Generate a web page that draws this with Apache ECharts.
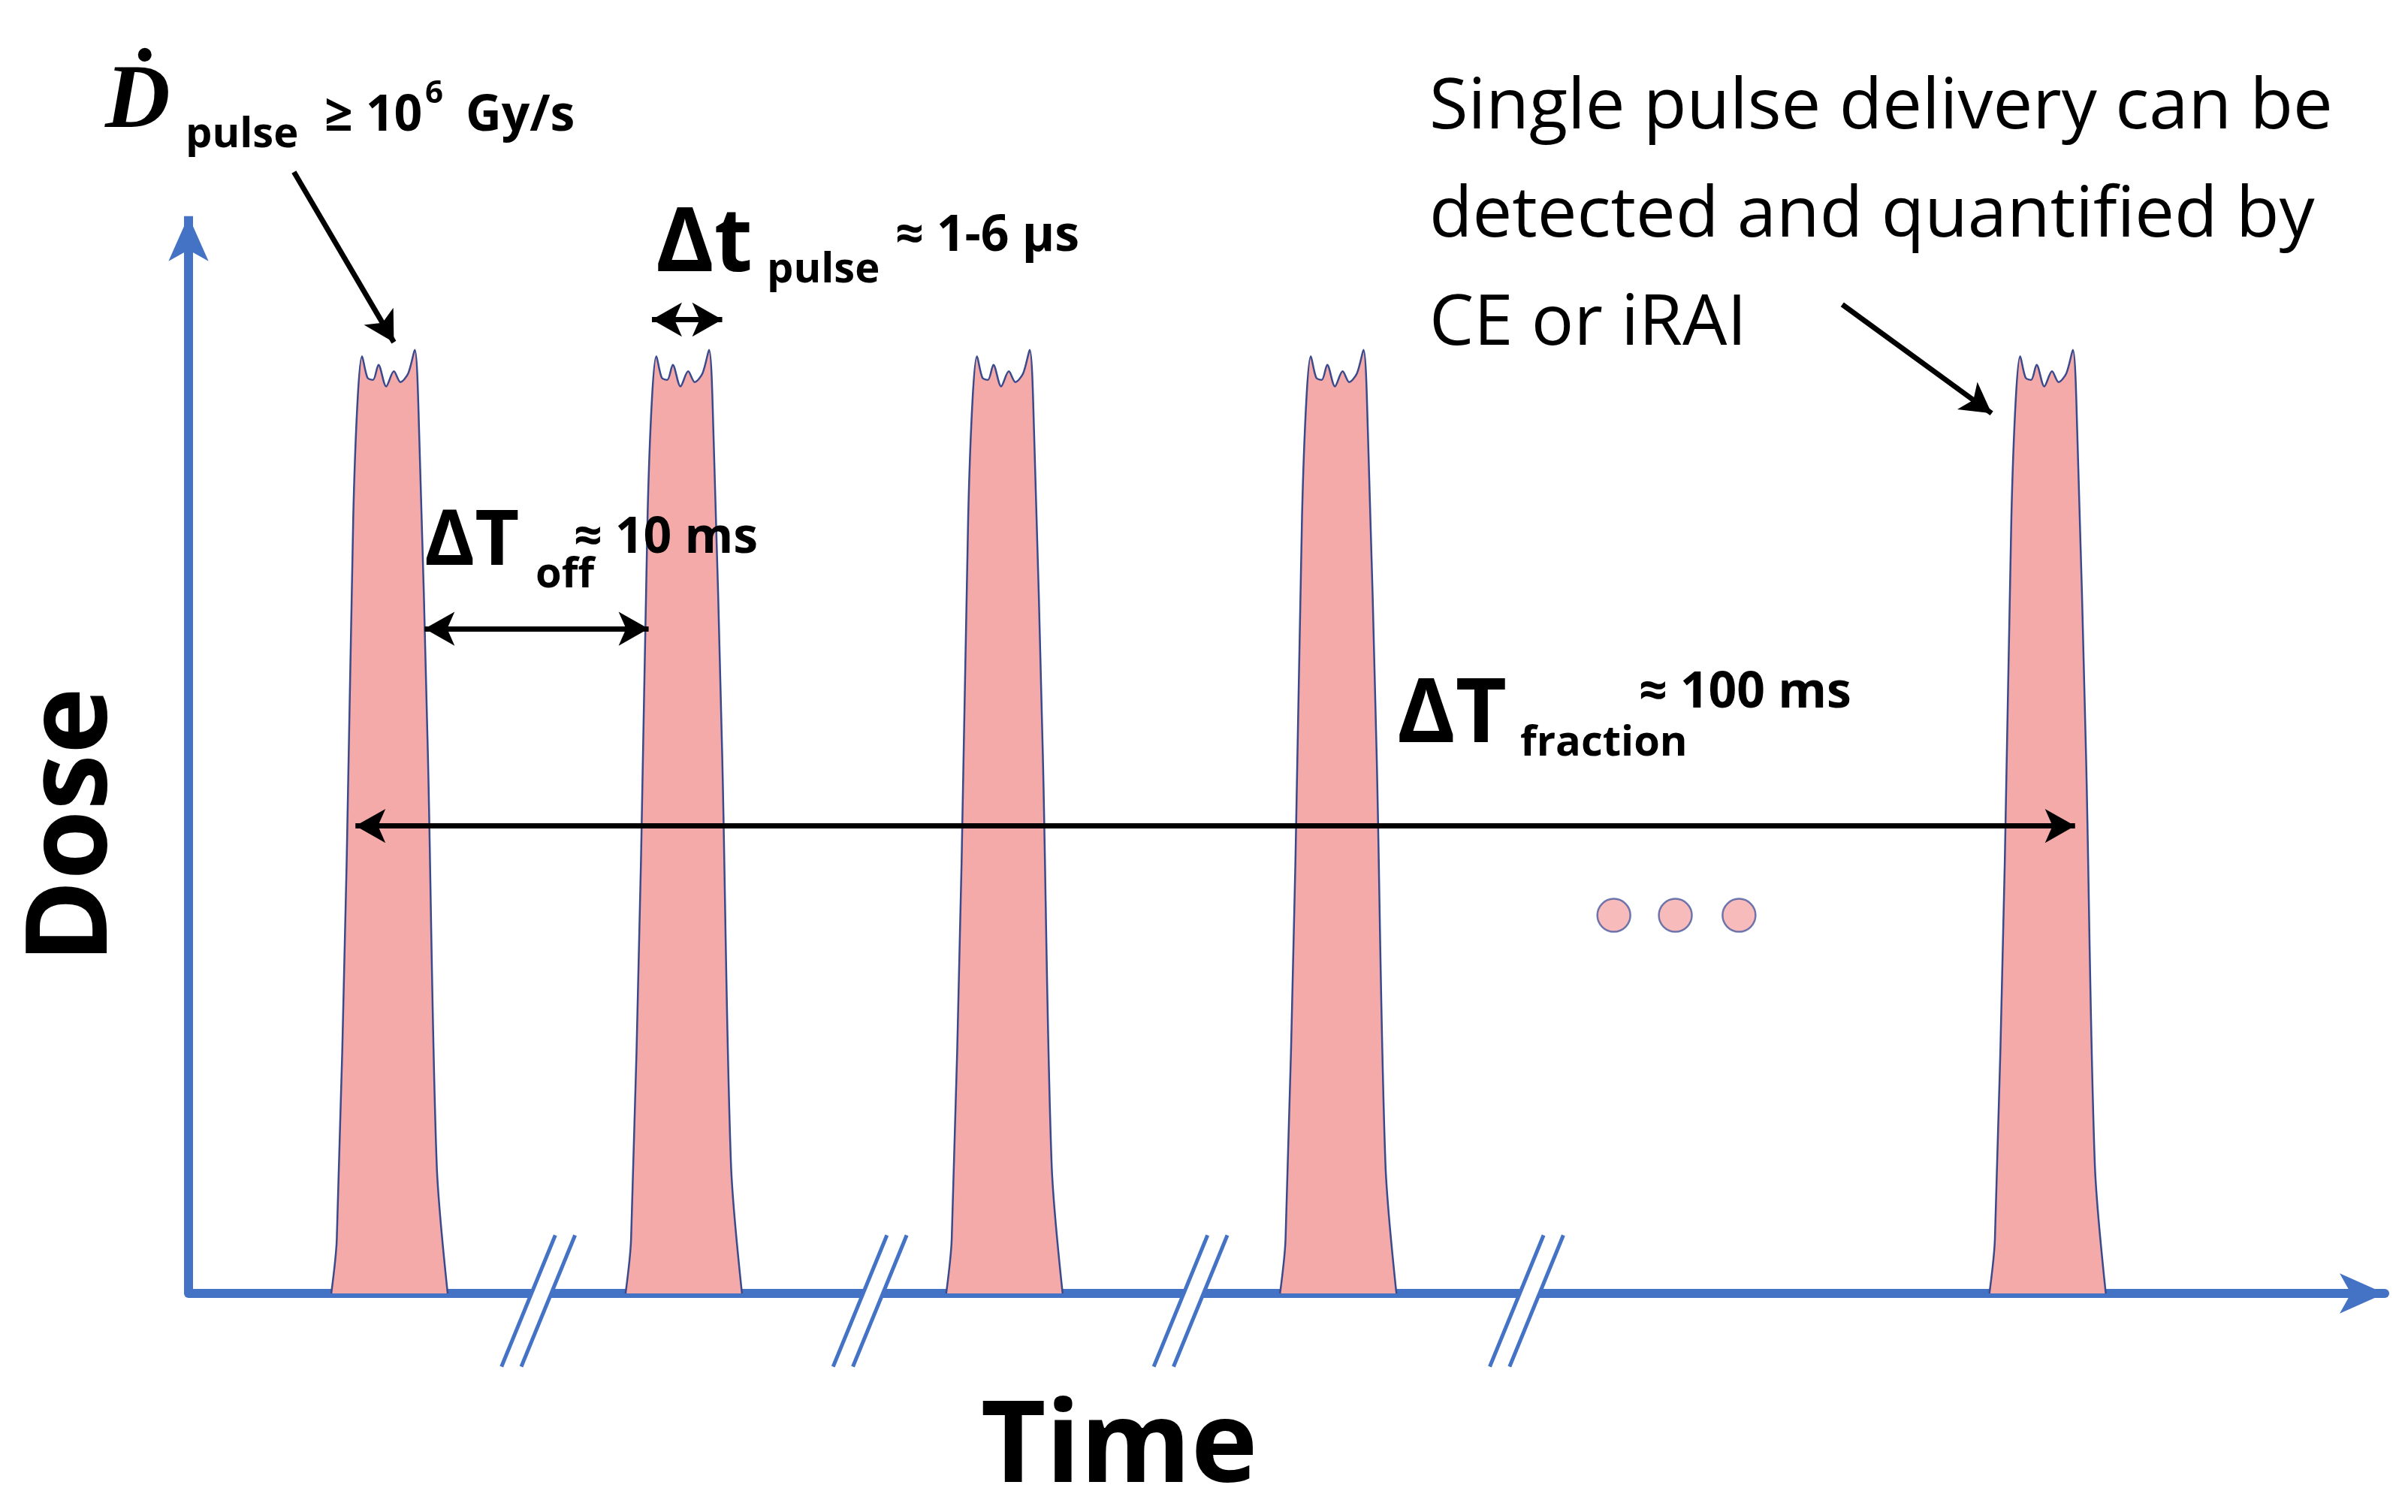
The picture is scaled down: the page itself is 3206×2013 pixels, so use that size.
<!DOCTYPE html><html><head><meta charset="utf-8">
<script src="https://cdn.jsdelivr.net/npm/echarts@6/dist/echarts.min.js"></script>
<style>html,body{margin:0;background:#fff}#c{width:3206px;height:2013px}</style></head><body><div id="c"></div>
<script>
const pulseCenters=[9.2,22.6,37.2,52.4,84.7];
const pulseShape=[[-2.7,0],[-2.45,5],[-2.0,40],[-1.7,72],[-1.5,83],[-1.3,87],[-1.05,85],[-0.8,84.8],[-0.55,86.2],[-0.2,84.2],[0.15,85.6],[0.45,84.6],[0.8,85.4],[1.1,87.6],[1.3,80],[1.7,50],[2.1,12],[2.6,0]];
const breakX=[15.5,30.6,45.2,60.5];
const dots=[[64.9,35.1],[67.7,35.1],[70.6,35.1]];
const arrowsDouble=[[[10.75,61.7],[20.95,61.7]],[[21.1,90.4],[24.3,90.4]],[[7.6,43.4],[85.9,43.4]]];
const arrowsSingle=[[[4.8,104.1],[9.35,88.3]],[[75.3,91.8],[82.1,81.7]]];
const yAxisTop=100;
const pink='#F5AAAA', blue='#4472C4';
const series=[];
pulseCenters.forEach(c=>{series.push({type:'line',data:pulseShape.map(p=>[c+p[0],p[1]]),symbol:'none',smooth:0.3,lineStyle:{color:'#3a4a8c',width:2.5},areaStyle:{color:pink,opacity:1},z:3});});
breakX.forEach(b=>{
 series.push({type:'line',clip:false,data:[[b+1.65,5.4],[b-0.8,-6.8]],symbol:'none',lineStyle:{color:'#fff',width:26},z:5});
 [-0.45,0.45].forEach(o=>series.push({type:'line',clip:false,data:[[b+1.65+o,5.4],[b-0.8+o,-6.8]],symbol:'none',lineStyle:{color:blue,width:5},z:6}));
});
series.push({type:'scatter',data:dots,symbolSize:44,itemStyle:{color:pink,borderColor:'#4a5aa0',borderWidth:2.5},z:4});
series.push({type:'line',data:[],markLine:{silent:true,symbol:['none','arrow'],symbolSize:[40,60],lineStyle:{color:blue,width:12,type:'solid'},label:{show:false},
 data:[[{coord:[0,0]},{coord:[0,yAxisTop]}]]},z:2});
series.push({type:'line',data:[],markLine:{silent:true,symbol:['arrow','arrow'],symbolSize:[34,40],lineStyle:{color:'#000',width:7,type:'solid'},label:{show:false},
 data:arrowsDouble.map(a=>[{coord:a[0]},{coord:a[1]}]).concat(arrowsSingle.map(a=>[{coord:a[0],symbol:'none'},{coord:a[1],symbol:'arrow'}]))},z:7});
const F=(w,s)=>(w?'bold ':'')+s+'px "Open Sans", sans-serif';
const tx=(t,x,y,font)=>({type:'text',x:x,y:y,z:100,style:{text:t,font:font,fill:'#000'}});
const chart=echarts.init(document.getElementById('c'));
chart.setOption({animation:false,
 grid:{left:251,right:31,top:1,bottom:291},
 xAxis:{type:'value',min:0,max:100,axisLine:{lineStyle:{color:blue,width:12},symbol:['none','arrow'],symbolSize:[40,60]},axisTick:{show:false},axisLabel:{show:false},splitLine:{show:false}},
 yAxis:{type:'value',min:0,max:120,axisLine:{show:false},axisTick:{show:false},axisLabel:{show:false},splitLine:{show:false}},
 series:series,
 graphic:[
  {type:'text',x:99,y:1099,rotation:Math.PI/2,z:100,style:{text:'Dose',font:F(1,150),fill:'#000',align:'center',verticalAlign:'middle'}},
  {type:'text',x:1490,y:1930,z:100,style:{text:'Time',font:F(1,150),fill:'#000',align:'center',verticalAlign:'middle'}},
  tx('Ḋ',140,78,'bold italic 120px "Liberation Serif", serif'),
  tx('pulse',247,152,F(1,56)),
  tx('≥ 10',432,122,F(1,66)),
  tx('6',566,104,F(1,42)),
  tx('Gy/s',620,122,F(1,66)),
  tx('Δt',873,268,F(1,118)),
  tx('pulse',1021,332,F(1,56)),
  tx('≈ 1-6 μs',1192,282,F(1,66)),
  tx('ΔT',565,672,F(1,102)),
  tx('off',713,738,F(1,56)),
  tx('≈ 10 ms',764,684,F(1,66)),
  tx('ΔT',1860,895,F(1,118)),
  tx('fraction',2024,962,F(1,56)),
  tx('≈ 100 ms',2182,890,F(1,66)),
  {type:'text',x:1903,y:72,z:100,style:{text:'Single pulse delivery can be\ndetected and quantified by\nCE or iRAI',font:F(0,94),lineHeight:144,fill:'#000'}}
 ]});
</script></body></html>
